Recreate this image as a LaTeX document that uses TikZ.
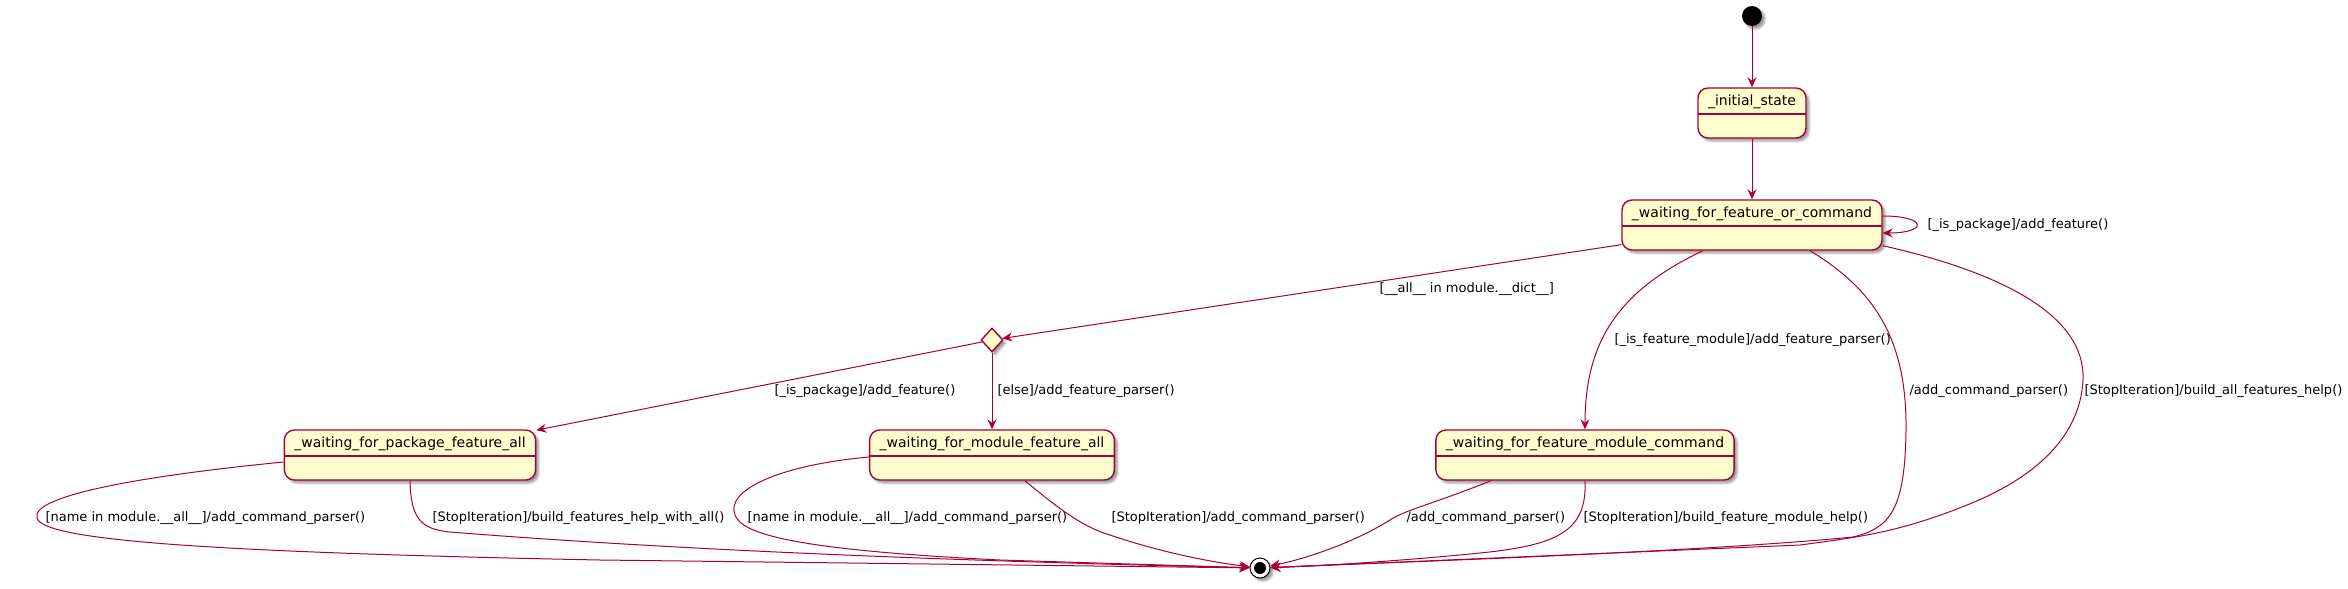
\documentclass[tikz,border=0pt]{standalone}
\usepackage{fontspec}
\setmainfont{DejaVu Sans}
\usepackage{tikz}
\usetikzlibrary{arrows.meta,positioning,shapes.geometric,shadows.blur}
\definecolor{umlred}{HTML}{A80036}
\definecolor{umlfill}{HTML}{FEFECE}

\begin{document}
\begin{tikzpicture}[
    x=1pt, y=-1pt,
    node distance=113pt,
    >={Stealth[length=10pt, width=9pt, inset=3.5pt]},
    font=\fontsize{13}{15}\selectfont,
    state/.style={
		rectangle,
		rounded corners=10pt,
		draw=umlred,
		line width=1.4pt,
		fill=umlfill,
		font=\fontsize{14}{16}\selectfont,
		inner xsep=10pt,
		inner ysep=5.5pt,
		text height=12pt,
		text depth=27pt,
		blur shadow={shadow xshift=3pt, shadow yshift=-3pt, shadow opacity=40},
		path picture={\draw [umlred, line width=1.4pt]
			([yshift=-26pt]path picture bounding box.north west) --
			([yshift=-26pt]path picture bounding box.north east);}
	},
    choice/.style={
		diamond,
		shape aspect=1,
		draw=umlred,
		line width=1.4pt,
		fill=umlfill,
		minimum width=22pt,
		minimum height=24pt,
		inner sep=0pt,
		blur shadow={shadow xshift=3pt, shadow yshift=-3pt, shadow opacity=40}
	},
    startdot/.style={
		circle,
		fill=black,
		minimum size=20pt,
		inner sep=0pt,
		blur shadow={shadow xshift=3pt, shadow yshift=-3pt, shadow opacity=40}
	},
    enddot/.style={
		circle,
		draw=black,
		line width=1pt,
		fill=white,
		minimum size=20pt,
		inner sep=0pt,
		blur shadow={shadow xshift=3pt, shadow yshift=-3pt, shadow opacity=40},
		path picture={\fill [black] (path picture bounding box.center) circle (6pt);}
	},
    flow/.style={
		->,
		draw=umlred,
		line width=1pt
	},
	lbl/.style={
		inner sep=0pt,
		anchor=west
	}
  ]
  \useasboundingbox (0,0) rectangle (2348,589);

    % We start by placing the states

  \node [startdot] (start) at (1752,16) {};
  \node [state, below of=start, node distance=97pt] (init) {\_initial\_state};
  \node [state, below of=init, node distance=112pt] (wfoc) {\_waiting\_for\_feature\_or\_command};
  \node [choice, below of=wfoc, node distance=115pt, xshift=-760pt] (choice) {};
  \node [state, below of=choice, node distance=115pt] (modall) {\_waiting\_for\_module\_feature\_all};
  \node [state, below of=choice, node distance=115pt, xshift=-582pt] (pkgall) {\_waiting\_for\_package\_feature\_all};
  \node [state, below of=wfoc, node distance=230pt, xshift=-167pt] (fmcmd) {\_waiting\_for\_feature\_module\_command};
  \node [enddot, below of=modall, node distance=113pt, xshift=268pt] (final) {};

  % transitions
  \draw [flow] (start) -- (init);
  \draw [flow] (init) -- (wfoc);
  \draw [flow] ([yshift=9pt]wfoc.east) .. controls +(45,0) and +(45,0) .. ([yshift=-8pt]wfoc.east)
    node [lbl] at (1927,225) {[\_is\_package]/add\_feature()};
  \draw [flow] (wfoc) -- (choice)
    node [lbl] at (1379,289) {[\_\_all\_\_ in module.\_\_dict\_\_]};
  \draw [flow] (choice) -- (pkgall)
    node [lbl] at (774,391) {[\_is\_package]/add\_feature()};
  \draw [flow] (choice) -- (modall)
    node [lbl] at (997,391) {[else]/add\_feature\_parser()};
  \draw [flow] ([xshift=-49pt]wfoc.south) .. controls (1620,290) and (1585,340) .. (fmcmd.north)
    node [lbl] at (1614,340) {[\_is\_feature\_module]/add\_feature\_parser()};
  \draw [flow] ([xshift=58pt]wfoc.south) .. controls (1875,290) and (1907,340) .. (1906,430)
    .. controls (1905,510) and (1890,528) .. (1853,537) .. controls (1700,552) and (1400,562) .. (final)
    node [lbl] at (1909,391) {/add\_command\_parser()};
  \draw [flow] ([yshift=5pt]wfoc.south east) .. controls (2000,272) and (2086,315) .. (2083,380)
    .. controls (2080,440) and (2030,480) .. (1967,505) .. controls (1900,532) and (1860,537) .. (1800,545)
    -- (final)
    node [lbl] at (2084,391) {[StopIteration]/build\_all\_features\_help()};
  \draw [flow] ([yshift=-7pt]pkgall.west) .. controls (150,475) and (30,495) .. (37,518)
    .. controls (43,540) and (200,552) .. (600,560) -- (final)
    node [lbl] at (45,518) {[name in module.\_\_all\_\_]/add\_command\_parser()};
  \draw [flow] (pkgall.south) .. controls (411,518) and (420,529) .. (450,532)
    .. controls (700,552) and (1000,562) .. (final)
    node [lbl] at (432,518) {[StopIteration]/build\_features\_help\_with\_all()};
  \draw [flow] ([yshift=-2pt]modall.west) .. controls (780,465) and (725,490) .. (735,515)
    .. controls (742,535) and (800,550) .. (1000,560) -- (final)
    node [lbl] at (747,518) {[name in module.\_\_all\_\_]/add\_command\_parser()};
  \draw [flow] ([xshift=33pt]modall.south) .. controls (1060,510) and (1085,528) .. (1110,535)
    .. controls (1160,552) and (1210,562) .. (final)
    node [lbl] at (1111,518) {[StopIteration]/add\_command\_parser()};
  \draw [flow] ([xshift=-94pt]fmcmd.south) .. controls (1430,505) and (1405,510) .. (1390,520)
    .. controls (1350,545) and (1300,560) .. (final)
    node [lbl] at (1406,518) {/add\_command\_parser()};
  \draw [flow] (fmcmd.south) .. controls (1587,530) and (1560,545) .. (1480,553)
    .. controls (1400,561) and (1320,566) .. (final)
    node [lbl] at (1583,518) {[StopIteration]/build\_feature\_module\_help()};

\end{tikzpicture}
\end{document}
